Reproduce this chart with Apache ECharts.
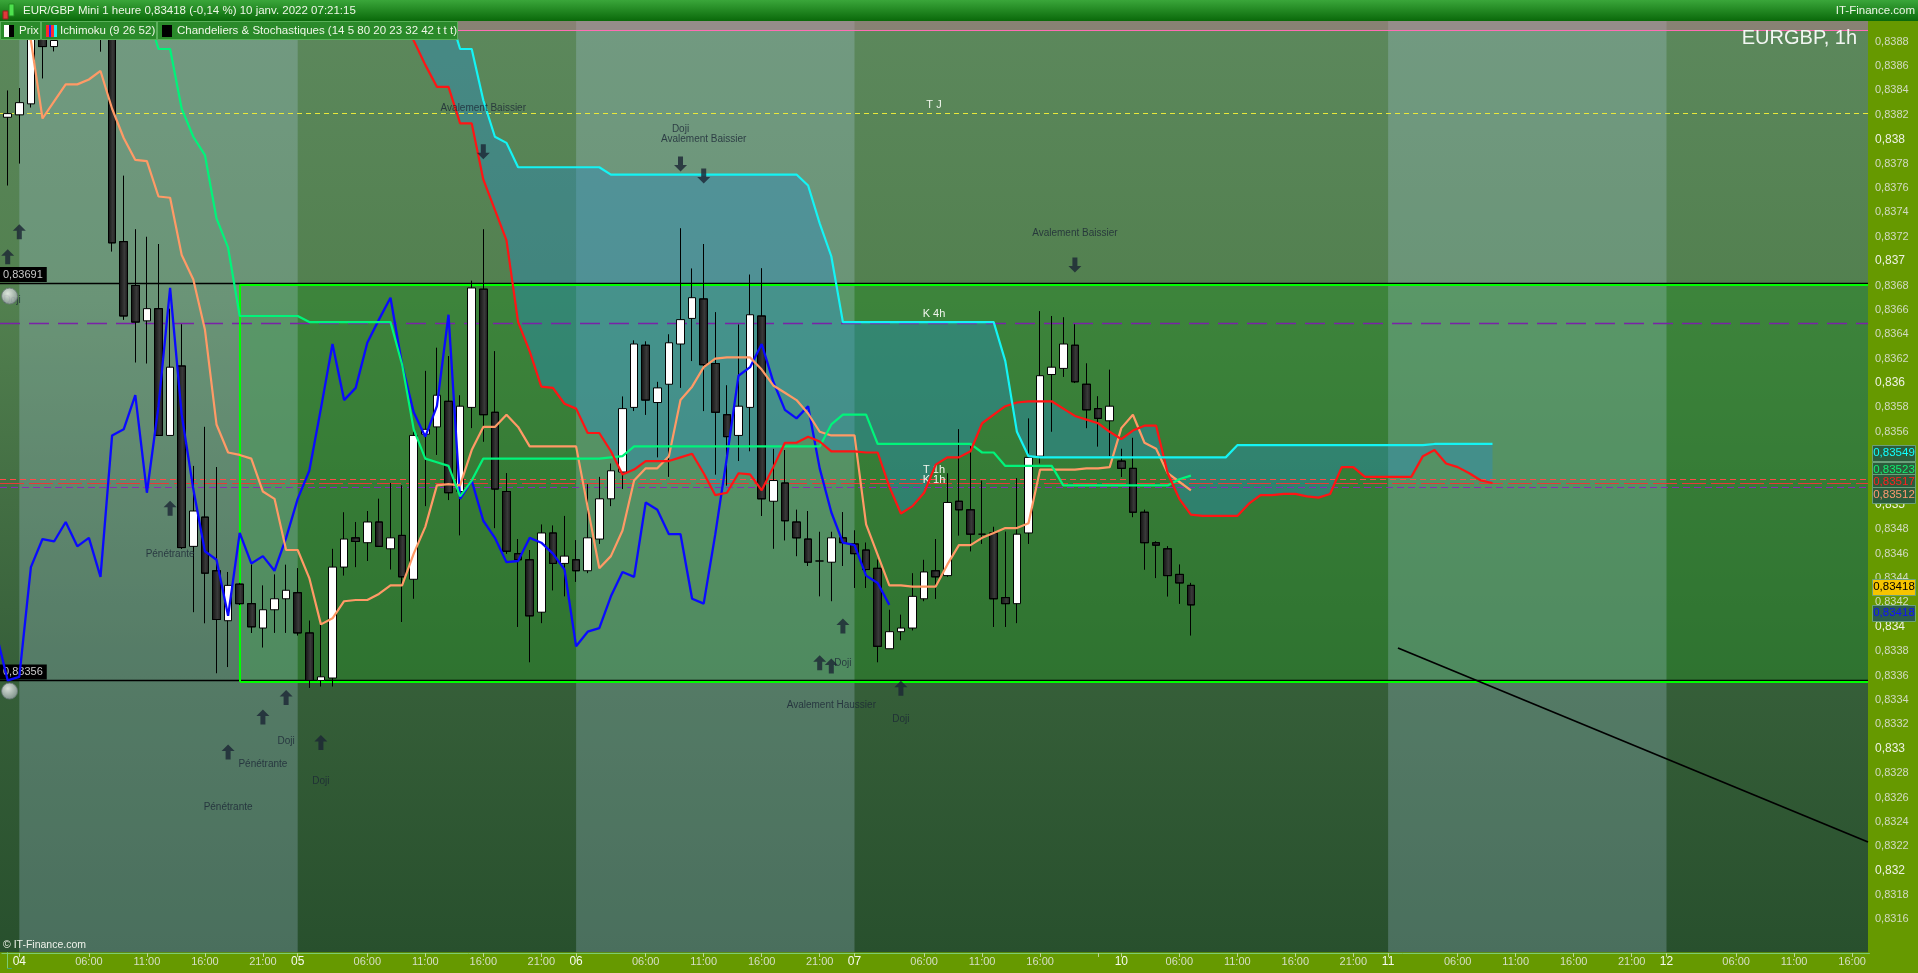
<!DOCTYPE html>
<html><head><meta charset="utf-8">
<script src="https://cdn.jsdelivr.net/npm/echarts/dist/echarts.min.js"></script>
<style>html,body{margin:0;padding:0;background:#669900;overflow:hidden}#c{width:1918px;height:973px}</style>
</head><body><div id="c"></div><script>
// ---------- DATA ----------
// candle index 0 = Mon 03 23:00, hourly; Fri 07 ends 22:00, Mon 10 starts 01:00
const opens = [0.83818,0.83820,0.83829,0.83890,0.83876,0.83895,0.83910,0.83900,0.83915,0.83905,
0.83716,0.83680,0.83651,0.83661,0.83557,0.83614,0.83466,0.83490,0.83446,0.83405,
0.83435,0.83419,0.83399,0.83414,0.83423,0.83428,0.83395,0.83356,0.83358,0.83449,
0.83473,0.83469,0.83486,0.83464,0.83475,0.83439,0.83558,0.83564,0.83585,0.83511,
0.83580,0.83677,0.83576,0.83511,0.83460,0.83455,0.83412,0.83477,0.83452,0.83455,
0.83446,0.83472,0.83505,0.83527,0.83580,0.83631,0.83584,0.83599,0.83632,0.83653,
0.83669,0.83616,0.83574,0.83557,0.83580,0.83655,0.83503,0.83518,0.83486,0.83472,
0.83454,0.83453,0.83473,0.83468,0.83463,0.83448,0.83382,0.83396,0.83399,0.83423,
0.83446,0.83442,0.83503,0.83496,0.83476,0.83477,0.83424,0.83419,0.83477,0.83540,
0.83607,0.83612,0.83631,0.83599,0.83579,0.83569,0.83536,0.83530,0.83494,0.83469,
0.83464,0.83443,0.83434];
const closes = [0.83821,0.83830,0.83885,0.83876,0.83881,0.83910,0.83900,0.83915,0.83905,0.83715,
0.83655,0.83650,0.83661,0.83557,0.83613,0.83465,0.83495,0.83444,0.83406,0.83434,
0.83419,0.83400,0.83414,0.83423,0.83430,0.83395,0.83356,0.83359,0.83449,0.83472,
0.83470,0.83486,0.83466,0.83473,0.83441,0.83557,0.83562,0.83590,0.83510,0.83581,
0.83678,0.83574,0.83513,0.83462,0.83455,0.83409,0.83477,0.83452,0.83458,0.83446,
0.83473,0.83505,0.83528,0.83579,0.83632,0.83586,0.83596,0.83633,0.83652,0.83670,
0.83615,0.83576,0.83556,0.83581,0.83656,0.83505,0.83520,0.83487,0.83473,0.83453,
0.83454,0.83473,0.83469,0.83460,0.83447,0.83384,0.83396,0.83399,0.83425,0.83445,
0.83441,0.83502,0.83496,0.83476,0.83476,0.83423,0.83419,0.83476,0.83539,0.83606,
0.83613,0.83632,0.83601,0.83578,0.83571,0.83581,0.83530,0.83494,0.83469,0.83467,
0.83442,0.83436,0.83418];
const lows = [0.83762,0.83780,0.83826,0.83850,0.83872,0.83892,0.83882,0.83893,0.83872,0.83708,
0.83652,0.83617,0.83616,0.83557,0.83557,0.83464,0.83412,0.83403,0.83362,0.83367,
0.83418,0.83395,0.83383,0.83395,0.83395,0.83393,0.83350,0.83351,0.83351,0.83442,
0.83449,0.83454,0.83466,0.83447,0.83404,0.83423,0.83499,0.83541,0.83504,0.83475,
0.83563,0.83552,0.83481,0.83460,0.83400,0.83371,0.83403,0.83430,0.83425,0.83437,
0.83444,0.83468,0.83499,0.83513,0.83577,0.83574,0.83539,0.83523,0.83596,0.83618,
0.83577,0.83525,0.83516,0.83536,0.83544,0.83491,0.83464,0.83471,0.83458,0.83450,
0.83425,0.83421,0.83450,0.83432,0.83432,0.83371,0.83382,0.83389,0.83397,0.83421,
0.83423,0.83441,0.83475,0.83462,0.83468,0.83400,0.83400,0.83403,0.83468,0.83534,
0.83560,0.83605,0.83600,0.83563,0.83548,0.83540,0.83523,0.83490,0.83447,0.83440,
0.83425,0.83419,0.83393];
const highs = [0.83840,0.83842,0.83900,0.83905,0.83895,0.83920,0.83925,0.83930,0.83935,0.83912,
0.83770,0.83726,0.83720,0.83714,0.83661,0.83648,0.83532,0.83564,0.83531,0.83445,
0.83436,0.83451,0.83434,0.83443,0.83451,0.83448,0.83405,0.83402,0.83464,0.83494,
0.83486,0.83495,0.83505,0.83518,0.83516,0.83560,0.83610,0.83629,0.83622,0.83590,
0.83684,0.83726,0.83626,0.83526,0.83472,0.83463,0.83484,0.83483,0.83491,0.83471,
0.83517,0.83523,0.83534,0.83589,0.83635,0.83634,0.83601,0.83640,0.83727,0.83694,
0.83714,0.83658,0.83598,0.83648,0.83689,0.83694,0.83546,0.83545,0.83496,0.83495,
0.83478,0.83478,0.83494,0.83479,0.83469,0.83455,0.83414,0.83410,0.83444,0.83455,
0.83472,0.83526,0.83562,0.83548,0.83520,0.83482,0.83478,0.83522,0.83571,0.83659,
0.83655,0.83654,0.83648,0.83616,0.83589,0.83611,0.83546,0.83555,0.83496,0.83470,
0.83466,0.83451,0.83436];

// Ichimoku lines
const tenkan = [0.83895,0.83895,0.83881,0.83817,0.83831,0.83845,0.83845,0.83849,0.83856,0.83825,
0.83801,0.83783,0.83782,0.83753,0.83752,0.83705,0.83685,0.83644,0.83566,0.83543,
0.83541,0.83538,0.83511,0.83505,0.83463,0.83463,0.83440,0.83402,0.83407,0.83421,
0.83422,0.83422,0.83427,0.83434,0.83434,0.83460,0.83482,0.83516,0.83517,0.83516,
0.83545,0.83564,0.83564,0.83574,0.83564,0.83548,0.83548,0.83548,0.83548,0.83548,
0.83498,0.83448,0.83458,0.83479,0.83520,0.83530,0.83530,0.83540,0.83586,0.83597,
0.83613,0.83620,0.83621,0.83621,0.83621,0.83611,0.83598,0.83592,0.83586,0.83575,
0.83560,0.83557,0.83557,0.83557,0.83484,0.83459,0.83434,0.83434,0.83433,0.83433,
0.83433,0.83451,0.83467,0.83467,0.83473,0.83477,0.83481,0.83481,0.83485,0.83529,
0.83529,0.83529,0.83529,0.83530,0.83530,0.83531,0.83563,0.83574,0.83551,0.83546,
0.83526,0.83519,0.83512];
const kijun = [0.83905,0.83905,0.83905,0.83905,0.83905,0.83905,0.83905,0.83905,0.83905,0.83905,
0.83905,0.83905,0.83905,0.83874,0.83874,0.83825,0.83802,0.83787,0.83735,0.83711,
0.83655,0.83655,0.83655,0.83655,0.83655,0.83655,0.83650,0.83650,0.83650,0.83650,
0.83650,0.83650,0.83650,0.83650,0.83615,0.83562,0.83538,0.83535,0.83532,0.83507,
0.83520,0.83538,0.83538,0.83538,0.83538,0.83538,0.83538,0.83538,0.83538,0.83538,
0.83538,0.83538,0.83539,0.83540,0.83548,0.83548,0.83548,0.83548,0.83548,0.83548,
0.83548,0.83548,0.83548,0.83548,0.83548,0.83548,0.83548,0.83548,0.83548,0.83548,
0.83548,0.83566,0.83574,0.83574,0.83574,0.83550,0.83550,0.83550,0.83550,0.83550,
0.83550,0.83550,0.83550,0.83550,0.83543,0.83543,0.83532,0.83532,0.83532,0.83532,
0.83532,0.83516,0.83516,0.83516,0.83516,0.83516,0.83516,0.83516,0.83516,0.83516,
0.83516,0.83521,0.83524];
const chikouStart = -1;
const chikou = [0.83395,0.83356,0.83359,0.83449,0.83472,0.83470,0.83486,0.83466,0.83473,0.83441,0.83557,
0.83562,0.83590,0.83510,0.83581,0.83678,0.83574,0.83513,0.83462,0.83455,0.83409,
0.83477,0.83452,0.83458,0.83446,0.83473,0.83505,0.83528,0.83579,0.83632,0.83586,
0.83596,0.83633,0.83652,0.83670,0.83615,0.83576,0.83556,0.83581,0.83656,0.83505,
0.83520,0.83487,0.83473,0.83453,0.83454,0.83473,0.83469,0.83460,0.83447,0.83384,
0.83396,0.83399,0.83425,0.83445,0.83441,0.83502,0.83496,0.83476,0.83476,0.83423,
0.83419,0.83476,0.83539,0.83606,0.83613,0.83632,0.83601,0.83578,0.83571,0.83581,
0.83530,0.83494,0.83469,0.83467,0.83442,0.83436,0.83418];
const senkouStart = 34;
const senkouA = [0.83905,0.83881,0.83861,0.83843,0.83843,0.83813,0.83813,0.83767,0.83742,0.83717,
0.83650,0.83626,0.83597,0.83596,0.83583,0.83579,0.83559,0.83559,0.83544,0.83525,
0.83529,0.83536,0.83536,0.83536,0.83539,0.83542,0.83526,0.83508,0.83510,0.83526,
0.83525,0.83512,0.83531,0.83551,0.83551,0.83556,0.83552,0.83544,0.83544,0.83544,
0.83543,0.83543,0.83515,0.83493,0.83499,0.83510,0.83533,0.83539,0.83539,0.83544,
0.83567,0.83574,0.83581,0.83584,0.83585,0.83585,0.83585,0.83579,0.83573,0.83570,
0.83567,0.83560,0.83554,0.83561,0.83565,0.83565,0.83526,0.83505,0.83492,0.83491,
0.83491,0.83491,0.83491,0.83501,0.83508,0.83508,0.83509,0.83509,0.83507,0.83506,
0.83509,0.83531,0.83531,0.83523,0.83523,0.83523,0.83523,0.83523,0.83540,0.83545,
0.83534,0.83531,0.83526,0.83520,0.83518];
const senkouB = [0.83905,0.83905,0.83905,0.83905,0.83905,0.83874,0.83874,0.83832,0.83802,0.83797,
0.83777,0.83777,0.83777,0.83777,0.83777,0.83777,0.83777,0.83777,0.83771,0.83771,
0.83771,0.83771,0.83771,0.83771,0.83771,0.83771,0.83771,0.83771,0.83771,0.83771,
0.83771,0.83771,0.83771,0.83771,0.83771,0.83762,0.83731,0.83704,0.83650,0.83650,
0.83650,0.83650,0.83650,0.83650,0.83650,0.83650,0.83650,0.83650,0.83650,0.83650,
0.83650,0.83650,0.83618,0.83560,0.83540,0.83539,0.83539,0.83539,0.83539,0.83539,
0.83539,0.83539,0.83539,0.83539,0.83539,0.83539,0.83539,0.83539,0.83539,0.83539,
0.83539,0.83539,0.83549,0.83549,0.83549,0.83549,0.83549,0.83549,0.83549,0.83549,
0.83549,0.83549,0.83549,0.83549,0.83549,0.83549,0.83549,0.83549,0.83549,0.83550,
0.83550,0.83550,0.83550,0.83550,0.83550];

// horizontal levels
const levelTJ = 0.83821, levelK4h = 0.836492, levelT1h = 0.835211, levelRedLong = 0.83518, levelK1h = 0.835147;
const levelPink = 0.838894;
const alertHigh = 0.83682, alertLow = 0.83356;
const alertHighText = '0,83691', alertLowText = '0,83356';
const zoneStart = 20.03, zoneTop = 0.836808, zoneBottom = 0.833548;
const trendline = [[119.85, 0.833826], [160.37, 0.832235]];

// candle pattern markers
const arrowsUp = [[0,0.837036],[1,0.837241],[14,0.834972],[19,0.832973],[22,0.83326],[24,0.83342],[27,0.833051],[72,0.834007],[70,0.833706],[71,0.833679],[77,0.833496]];
const arrowsDown = [[41,0.837897],[58,0.837797],[60,0.837698],[92,0.836968]];
const patternLabels = [[0.37,0.83668,'Doji'],[14,0.834597,'Pénétrante'],[24,0.833063,'Doji'],[22,0.83287,'Pénétrante'],[27,0.83273,'Doji'],[19,0.832522,'Pénétrante'],[41,0.838254,'Avalement Baissier'],[58,0.838081,'Doji'],[60,0.837999,'Avalement Baissier'],[92,0.837228,'Avalement Baissier'],[72,0.833701,'Doji'],[71,0.833357,'Avalement Haussier'],[77,0.833242,'Doji']];
const bells = [[0.16,0.836713],[0.16,0.833473]];

// x-axis tick labels  [slot index, text]
const xTickLabels = [[1,'04'],[7,'06:00'],[12,'11:00'],[17,'16:00'],[22,'21:00'],[25,'05'],[31,'06:00'],[36,'11:00'],[41,'16:00'],[46,'21:00'],[49,'06'],[55,'06:00'],[60,'11:00'],[65,'16:00'],[70,'21:00'],[73,'07'],[79,'06:00'],[84,'11:00'],[89,'16:00'],[96,'10'],[101,'06:00'],[106,'11:00'],[111,'16:00'],[116,'21:00'],[119,'11'],[125,'06:00'],[130,'11:00'],[135,'16:00'],[140,'21:00'],[143,'12'],[149,'06:00'],[154,'11:00'],[159,'16:00']];
const xTickOnly = [94];
const slotCount = 161;
const lightDays = [[1,25],[49,73],[119,143]];

// right-side value tags
const tagTexts = ['0,83549','0,83523','0,83517','0,83512','0,83418','0,83418'];
const tagValues = [0.83549,0.83523,0.83517,0.83512,0.83418,0.83418];

// ---------- LAYOUT / STYLE ----------
const X_MIN = -0.664, X_MAX = 160.37;
const Y_MIN = 0.8312, Y_MAX = 0.839, Y_TOP = 0.83897, Y_BOT = 0.83133;
const tagShift = [8,-7,-2,5,-18,8];
const tagFg = ['#10ffff','#10f070','#ff2020','#ff9a70','#000000','#1010ff'];
const tagBg = ['#2c5c3c','#2c5c3c','#2c5c3c','#2c5c3c','#f5c400','#2c5c4c'];
const FONT = '"Liberation Sans", Arial, sans-serif';

const labelMap = new Map(xTickLabels.map(d => [d[0], d[1]]));
const tickSet = new Set(xTickLabels.map(d => d[0]).concat(xTickOnly));
const xCategories = Array.from({length: slotCount}, (_, i) => 's' + i);

const candleData = opens.map((o, i) => [i, o, closes[i], lows[i], highs[i]]);
const pairs = (arr, start) => arr.map((v, k) => [start + k, v]);

const upPath = 'path://M6.5,0 L13,6.5 L9,6.5 L9,15 L4,15 L4,6.5 L0,6.5 Z';
const downPath = 'path://M4,0 L9,0 L9,8.5 L13,8.5 L6.5,15 L0,8.5 L4,8.5 Z';

const bgGrad = {type:'linear', x:0, y:0, x2:0, y2:1, colorStops:[
  {offset:0, color:'#5c885c'}, {offset:0.3, color:'#52804f'}, {offset:0.7, color:'#365f39'}, {offset:1, color:'#28502d'}]};

function emptyLine(z, extra) {
  return Object.assign({type:'line', data:[], xAxisIndex:0, yAxisIndex:0, z, silent:true, symbol:'none'}, extra);
}
function hLine(v, color, type, width, label) {
  const item = {yAxis: v, lineStyle:{color, type, width}};
  if (label) item.label = label;
  return item;
}
const lvlLabel = (t, dist) => ({show:true, formatter:t, position:'insideMiddleTop', distance:dist, color:'#f2f6ee', fontSize:11, fontFamily:FONT});
const alertLabel = t => ({show:true, formatter:t, position:'insideStartTop', distance:[0,1], color:'#c8c8c8', backgroundColor:'#000', padding:[2,4,2,3], fontSize:11, fontFamily:FONT});

const chart = echarts.init(document.getElementById('c'), null, {renderer:'canvas', width:1918, height:973});

const option = {
  backgroundColor: '#669900',
  animation: false,
  grid: [
    {left:0, top:17.32, width:1868, height:950.82, show:false, containLabel:false, outerBoundsMode:'none'},
    {left:1.9, top:952, width:1867.6, height:1, show:false, containLabel:false, outerBoundsMode:'none'}
  ],
  xAxis: [
    {type:'value', gridIndex:0, min:X_MIN, max:X_MAX, show:false},
    {type:'category', gridIndex:1, data:xCategories, boundaryGap:true,
     axisLine:{show:true, lineStyle:{color:'#7ccc70', width:1}},
     axisTick:{show:true, alignWithLabel:true, length:4, interval:(i) => tickSet.has(i), lineStyle:{color:'#b9d49a'}},
     splitLine:{show:false},
     axisLabel:{interval:(i) => labelMap.has(i), margin:3, fontFamily:FONT,
       formatter:(v) => { const i = +v.slice(1); const t = labelMap.get(i) || ''; return t.length === 2 ? '{d|' + t + '}' : '{h|' + t + '}'; },
       rich:{d:{color:'#f6faee', fontSize:12, fontFamily:FONT}, h:{color:'#d6dec6', fontSize:11, fontFamily:FONT}}}}
  ],
  yAxis: [
    {type:'value', gridIndex:0, position:'right', min:Y_MIN, max:Y_MAX, interval:0.0002,
     splitLine:{show:false},
     axisLine:{show:true, lineStyle:{color:'#7ccc70', width:1}},
     axisTick:{show:true, length:4, lineStyle:{color:'#3aa58a'}},
     axisLabel:{margin:7, fontFamily:FONT,
       formatter:(v) => { const n = Math.round(v * 10000); if (n < 8316 || n > 8388) return ''; const s = '0,' + String(n).replace(/0+$/, ''); return n % 10 === 0 ? '{b|' + s + '}' : '{m|' + s + '}'; },
       rich:{b:{color:'#eef2e2', fontSize:12, fontFamily:FONT}, m:{color:'#d2dac2', fontSize:11, fontFamily:FONT}}}},
    {type:'value', gridIndex:1, show:false}
  ],
  series: [
    emptyLine(1, {markArea:{silent:true, data:[[{xAxis:X_MIN, yAxis:Y_TOP, itemStyle:{color:bgGrad}}, {xAxis:X_MAX, yAxis:Y_BOT}]]}}),
    emptyLine(2, {markArea:{silent:true, data:[[{xAxis:zoneStart, yAxis:zoneTop, itemStyle:{color:'rgba(40,135,40,0.5)'}}, {xAxis:X_MAX, yAxis:zoneBottom}]]}}),
    emptyLine(3, {markArea:{silent:true, data:
      lightDays.map(d => [{xAxis:d[0], yAxis:Y_TOP, itemStyle:{color:'rgba(185,212,245,0.24)'}}, {xAxis:d[1], yAxis:Y_BOT}])
      .concat([[{xAxis:X_MIN, yAxis:Y_TOP, itemStyle:{color:'rgba(202,122,152,0.4)'}}, {xAxis:X_MAX, yAxis:levelPink}]])}}),
    {type:'custom', xAxisIndex:0, yAxisIndex:0, z:4, silent:true, clip:true, data:[[50, 0.835]],
     renderItem:(params, api) => {
       const pts = [];
       for (let k = 0; k < senkouA.length; k++) pts.push(api.coord([senkouStart + k, senkouA[k]]));
       for (let k = senkouB.length - 1; k >= 0; k--) pts.push(api.coord([senkouStart + k, senkouB[k]]));
       return {type:'polygon', shape:{points:pts}, style:{fill:'rgba(40,140,195,0.4)'}};
     }},
    emptyLine(5, {markLine:{silent:true, precision:6, symbol:['none','none'], label:{show:false}, data:[
      hLine(levelPink, '#ff6eb4', 'solid', 1),
      hLine(levelTJ, '#e8e83a', [5,4], 1, lvlLabel('T J', 3)),
      hLine(levelK4h, '#7a22a8', [20,9], 1.3, lvlLabel('K 4h', 4)),
      hLine(levelT1h, '#ff4a4a', [6,4], 1, lvlLabel('T 1h', 4)),
      hLine(levelRedLong, '#e83838', [24,5], 1),
      hLine(levelK1h, '#8a2ab8', [7,4], 1.2, lvlLabel('K 1h', 2)),
      hLine(alertHigh, '#000000', 'solid', 1.3, alertLabel(alertHighText)),
      hLine(alertLow, '#000000', 'solid', 1.3, alertLabel(alertLowText))
    ]}}),
    {type:'candlestick', xAxisIndex:0, yAxisIndex:0, z:6, silent:true, barWidth:8,
     encode:{x:0, y:[1,2,3,4]}, data:candleData,
     itemStyle:{color:'#ffffff', color0:{type:'linear', x:0, y:0, x2:1, y2:0, colorStops:[{offset:0, color:'#101010'}, {offset:0.6, color:'#3a3a3a'}, {offset:1, color:'#1a1a1a'}]},
       borderColor:'#000000', borderColor0:'#000000', borderWidth:1}},
    {type:'line', name:'Chikou', data:pairs(chikou, chikouStart), z:7, symbol:'none', silent:true, lineStyle:{color:'#0a0aff', width:2.3}},
    {type:'line', name:'Tenkan', data:pairs(tenkan, 0), z:7, symbol:'none', silent:true, lineStyle:{color:'#ff9a66', width:2.2}},
    {type:'line', name:'Kijun', data:pairs(kijun, 0), z:7, symbol:'none', silent:true, lineStyle:{color:'#00f47a', width:2.2}},
    {type:'line', name:'SenkouA', data:pairs(senkouA, senkouStart), z:7, symbol:'none', silent:true, lineStyle:{color:'#ff1414', width:2.2}},
    {type:'line', name:'SenkouB', data:pairs(senkouB, senkouStart), z:7, symbol:'none', silent:true, lineStyle:{color:'#14f4f4', width:2.2}},
    {type:'line', name:'Trend', data:trendline, z:7, symbol:'none', silent:true, lineStyle:{color:'#000000', width:1.8}},
    emptyLine(7, {markLine:{silent:true, precision:6, symbol:['none','none'], label:{show:false}, lineStyle:{color:'#00ff00', width:2, type:'solid'}, data:[
      [{coord:[zoneStart, zoneTop]}, {coord:[X_MAX, zoneTop]}],
      [{coord:[zoneStart, zoneBottom]}, {coord:[X_MAX, zoneBottom]}],
      [{coord:[zoneStart, zoneTop]}, {coord:[zoneStart, zoneBottom]}]
    ]}}),
    {type:'scatter', z:8, silent:true, symbol:'circle', symbolSize:1, itemStyle:{color:'rgba(0,0,0,0)'},
     data:patternLabels.map(p => ({value:[p[0], p[1]], label:{formatter:p[2]}})),
     label:{show:true, position:'inside', color:'#1c2636', fontSize:10, fontFamily:FONT}},
    {type:'scatter', z:8, silent:true, symbol:upPath, symbolSize:[13,15], itemStyle:{color:'#1b2535'}, data:arrowsUp},
    {type:'scatter', z:8, silent:true, symbol:downPath, symbolSize:[13,15], itemStyle:{color:'#1b2535'}, data:arrowsDown},
    {type:'scatter', z:9, silent:true, symbol:'circle', symbolSize:16, data:bells,
     itemStyle:{color:{type:'radial', x:0.4, y:0.35, r:0.7, colorStops:[{offset:0, color:'#ffffff'}, {offset:1, color:'#8c9a9a'}]}, borderColor:'#6a7878', borderWidth:1}}
  ],
  graphic: []
};
chart.setOption(option);

// ---------- overlays (header, legend, texts, value tags) ----------
const T = (x, y, text, size, fill, align, extra) => Object.assign({type:'text', x, y, z:101, silent:true,
  style:{text, fill, font: size + 'px ' + FONT, align: align || 'left', verticalAlign:'middle', textAlign: align || 'left', textVerticalAlign:'middle'}}, extra || {});
const R = (x, y, w, h, fill, stroke, z) => ({type:'rect', z: z || 100, silent:true, shape:{x, y, width:w, height:h}, style:{fill, stroke: stroke || null, lineWidth: stroke ? 1 : 0}});

const g = [];
g.push(R(0, 0, 1918, 21, {type:'linear', x:0, y:0, x2:0, y2:1, colorStops:[{offset:0, color:'#3aa63a'}, {offset:1, color:'#0a690a'}]}));
g.push(R(3, 11, 5, 8, '#e03a3a', '#902020', 101));
g.push(R(9, 4, 5, 12, '#4ee24e', '#208a20', 101));
g.push(T(23, 11, 'EUR/GBP Mini 1 heure 0,83418 (-0,14 %) 10 janv. 2022 07:21:15', 11.5, '#eef6e6'));
g.push(T(1915, 11, 'IT-Finance.com', 11.5, '#eef6e6', 'right'));
// legend row
g.push(R(0.5, 21.5, 40, 18, '#2a8a2a', '#5ab05a'));
g.push(R(41.5, 21.5, 115, 18, '#2a8a2a', '#5ab05a'));
g.push(R(157.5, 21.5, 300, 18, '#2a8a2a', '#5ab05a'));
g.push(R(4, 25, 5, 12, '#ffffff', null, 101));
g.push(R(9, 25, 5, 12, '#000000', null, 101));
g.push(R(46, 25, 3, 12, '#ff2a2a', null, 101));
g.push(R(49, 25, 2, 12, '#2020ff', null, 101));
g.push(R(51, 25, 3, 12, '#ff3030', null, 101));
g.push(R(54, 25, 3, 12, '#20f0f0', null, 101));
g.push(R(162, 25, 10, 12, '#000000', null, 101));
g.push(T(19, 31, 'Prix', 11.5, '#eef6e6'));
g.push(T(60, 31, 'Ichimoku (9 26 52)', 11.5, '#eef6e6'));
g.push(T(177, 31, 'Chandeliers & Stochastiques (14 5 80 20 23 32 42 t t t)', 11.5, '#eef6e6'));
// instrument label & copyright
g.push(T(1857, 38, 'EURGBP, 1h', 20, '#f2f6f2', 'right'));
g.push(T(3, 945, '© IT-Finance.com', 10.5, '#eef2ea'));
// right value tags
tagTexts.forEach((t, i) => {
  const y = chart.convertToPixel({yAxisIndex:0}, tagValues[i]) + tagShift[i];
  g.push(R(1872.5, Math.round(y - 8) + 0.5, 43, 16, tagBg[i], '#6aa07a', 102));
  g.push(T(1894, y, t, 11.5, tagFg[i], 'center', {z:103}));
});
chart.setOption({graphic: g});
</script></body></html>
